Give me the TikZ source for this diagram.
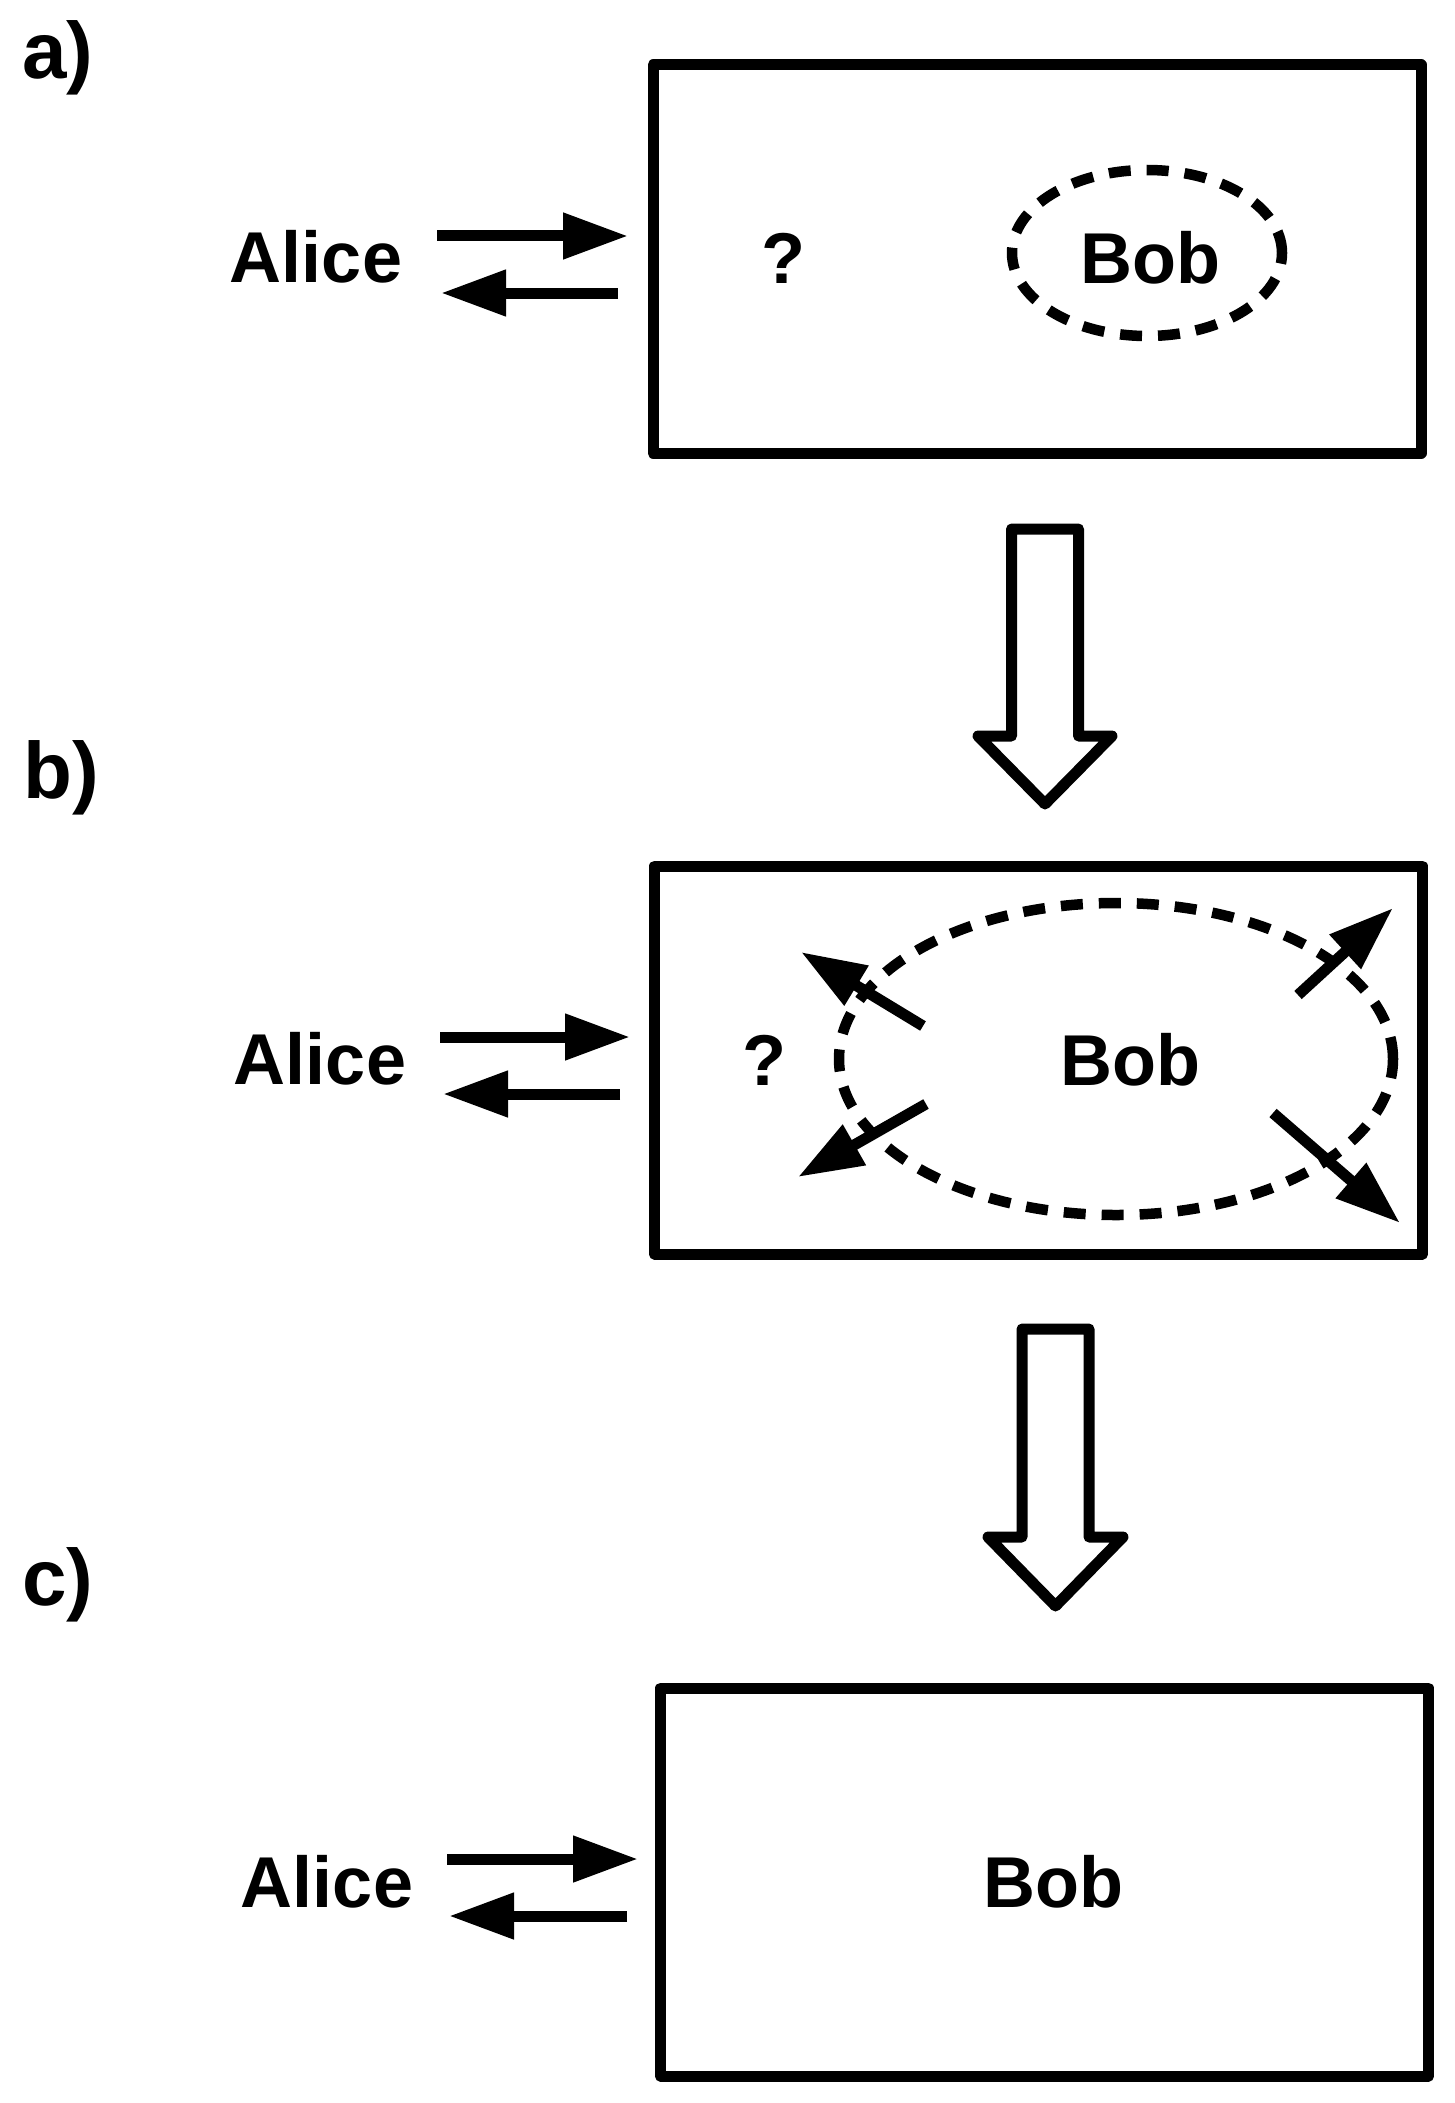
\documentclass[tikz,border=0pt]{standalone}
\usepackage{fontspec}
\setmainfont{Liberation Sans}
\usetikzlibrary{arrows.meta,shapes.geometric}
\begin{document}
\begin{tikzpicture}[x=0.5pt,y=-0.5pt,
  txt/.style={font=\fontsize{36}{40}\selectfont\bfseries, inner sep=0pt, anchor=base},
  lbl/.style={font=\fontsize{40}{44}\selectfont\bfseries, inner sep=0pt, anchor=base west},
  panel/.style={draw, line width=5.5pt, line join=round, minimum width=384pt, minimum height=194pt, inner sep=0pt},
  cloud/.style={draw, ellipse, line width=5.25pt, dash pattern=on 11pt off 8pt, inner sep=0pt},
  msg/.style={line width=5.5pt, -{Triangle[length=32.5pt,width=22pt]}},
  flow/.style={draw, line width=5.5pt, line join=round, fill=white}]
\useasboundingbox (0,0) rectangle (1455,2103);

% ---------- labels ----------
\node[lbl] (la) at (22,79) {a)};
\node[lbl] (lb) at (23,798) {b)};
\node[lbl] (lc) at (22,1605) {c)};

% ---------- panel a ----------
\node[panel] (boxa) at (1037,259) {};
\node[cloud, minimum width=135pt, minimum height=83pt] (ella) at (1147,253) {};
\node[txt] (alicea) at (316,283) {Alice};
\node[txt] (qa) at (783,284) {?};
\node[txt] (boba) at (1150,284) {Bob};
\coordinate (a1s) at (437,236); \coordinate (a1e) at (628,236);
\coordinate (a2s) at (618,293); \coordinate (a2e) at (441,293);
\draw[msg] (a1s) -- (a1e);
\draw[msg] (a2s) -- (a2e);

% ---------- transition arrow 1 ----------
\coordinate (f1) at (1045,529);
\draw[flow] (f1) ++(-33.5,0) -- ++(67,0) -- ++(0,207) -- ++(33.5,0) -- ++(-67,68) -- ++(-67,-68) -- ++(33.5,0) -- cycle;

% ---------- panel b ----------
\node[panel] (boxb) at (1038.5,1060) {};
\node[cloud, minimum width=277pt, minimum height=156pt] (ellb) at (1116,1059) {};
\node[txt] (aliceb) at (320,1084) {Alice};
\node[txt] (qb) at (764,1085) {?};
\node[txt] (bobb) at (1130,1085) {Bob};
\coordinate (b1s) at (440,1037); \coordinate (b1e) at (630,1037);
\coordinate (b2s) at (620,1094); \coordinate (b2e) at (443,1094);
\draw[msg] (b1s) -- (b1e);
\draw[msg] (b2s) -- (b2e);
\coordinate (ul1) at (923,1026); \coordinate (ul2) at (801,952);
\coordinate (ur1) at (1298,995); \coordinate (ur2) at (1393,908);
\coordinate (ll1) at (926,1104); \coordinate (ll2) at (798,1177);
\coordinate (lr1) at (1273,1113); \coordinate (lr2) at (1400,1223);
\draw[msg] (ul1) -- (ul2);
\draw[msg] (ur1) -- (ur2);
\draw[msg] (ll1) -- (ll2);
\draw[msg] (lr1) -- (lr2);

% ---------- transition arrow 2 ----------
\coordinate (f2) at (1055.5,1329);
\draw[flow] (f2) ++(-33.5,0) -- ++(67,0) -- ++(0,208) -- ++(34,0) -- ++(-67.5,69) -- ++(-67.5,-69) -- ++(34,0) -- cycle;

% ---------- panel c ----------
\node[panel] (boxc) at (1044.5,1882) {};
\node[txt] (alicec) at (327,1907) {Alice};
\node[txt] (bobc) at (1053,1907) {Bob};
\coordinate (c1s) at (447,1859); \coordinate (c1e) at (638,1859);
\coordinate (c2s) at (627,1916); \coordinate (c2e) at (449,1916);
\draw[msg] (c1s) -- (c1e);
\draw[msg] (c2s) -- (c2e);
\end{tikzpicture}
\end{document}
